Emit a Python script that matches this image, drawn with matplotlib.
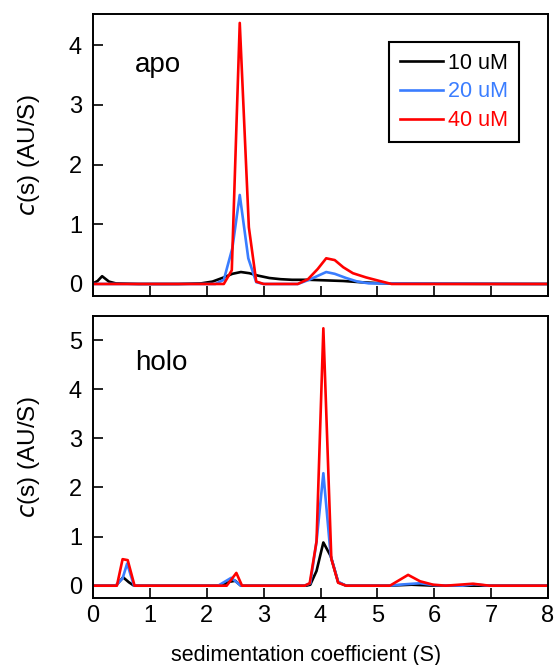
import matplotlib
matplotlib.use('Agg')
import matplotlib.pyplot as plt

plt.rcParams['font.family'] = ['Liberation Sans', 'DejaVu Sans']

labels = ['10 uM', '20 uM', '40 uM']
colors = ['black', '#3a7dff', '#ff0000']

# apo panel
apo_x_10 = [0, 0.08, 0.16, 0.28, 0.4, 0.8, 1.5, 1.9, 2.1, 2.3, 2.45, 2.6, 2.75, 2.9, 3.1, 3.3, 3.5, 3.8, 4.1, 4.4, 4.7, 5.0, 5.3, 8]
apo_y_10 = [0.01, 0.05, 0.13, 0.04, 0.01, 0, 0, 0.01, 0.04, 0.11, 0.17, 0.2, 0.18, 0.14, 0.1, 0.08, 0.07, 0.07, 0.06, 0.05, 0.03, 0.015, 0.005, 0]
apo_x_20 = [0, 2.15, 2.3, 2.45, 2.58, 2.73, 2.87, 3.0, 3.6, 3.8, 4.1, 4.25, 4.45, 4.65, 4.85, 8]
apo_y_20 = [0, 0, 0.07, 0.6, 1.49, 0.43, 0.03, 0, 0, 0.07, 0.2, 0.17, 0.1, 0.04, 0.01, 0]
apo_x_40 = [0, 2.3, 2.44, 2.58, 2.74, 2.87, 3.0, 3.6, 3.78, 3.95, 4.1, 4.25, 4.4, 4.57, 4.8, 5.04, 5.25, 8]
apo_y_40 = [0, 0, 0.23, 4.37, 0.95, 0.04, 0, 0, 0.08, 0.25, 0.43, 0.4, 0.28, 0.18, 0.11, 0.05, 0, 0]

# holo panel
holo_x_10 = [0, 0.4, 0.53, 0.63, 0.72, 2.25, 2.4, 2.5, 2.6, 3.75, 3.82, 3.93, 4.05, 4.18, 4.31, 4.45, 5.2, 5.6, 6.0, 8]
holo_y_10 = [0, 0, 0.17, 0.07, 0, 0, 0.08, 0.1, 0, 0, 0.02, 0.3, 0.88, 0.6, 0.07, 0, 0, 0.02, 0, 0]
holo_x_20 = [0, 0.4, 0.52, 0.6, 0.72, 2.2, 2.43, 2.6, 3.72, 3.82, 3.93, 4.05, 4.18, 4.31, 4.45, 5.2, 5.5, 5.75, 6.0, 6.5, 6.7, 6.95, 8]
holo_y_20 = [0, 0, 0.15, 0.45, 0, 0, 0.16, 0, 0, 0.05, 0.9, 2.29, 0.6, 0.08, 0, 0, 0.03, 0.05, 0.01, 0, 0.03, 0, 0]
holo_x_40 = [0, 0.42, 0.52, 0.61, 0.73, 2.35, 2.52, 2.62, 3.72, 3.81, 3.93, 4.05, 4.19, 4.31, 4.45, 5.22, 5.54, 5.75, 5.98, 6.2, 6.68, 6.97, 8]
holo_y_40 = [0, 0, 0.54, 0.52, 0, 0, 0.26, 0, 0, 0.05, 0.9, 5.24, 0.55, 0.06, 0, 0, 0.22, 0.09, 0.02, 0, 0.04, 0, 0]

fig = plt.figure(figsize=(5.55, 6.65), dpi=100)
ax1 = fig.add_axes([0.1676, 0.555, 0.8198, 0.424])
ax2 = fig.add_axes([0.1676, 0.1008, 0.8198, 0.424])

apo = [(apo_x_10, apo_y_10), (apo_x_20, apo_y_20), (apo_x_40, apo_y_40)]
holo = [(holo_x_10, holo_y_10), (holo_x_20, holo_y_20), (holo_x_40, holo_y_40)]

for (x, y), c, lab in zip(apo, colors, labels):
    ax1.plot(x, y, color=c, lw=1.9, label=lab)
for (x, y), c in zip(holo, colors):
    ax2.plot(x, y, color=c, lw=1.9)

for ax in (ax1, ax2):
    ax.set_xlim(0, 8)
    ax.set_xticks(range(9))
    ax.tick_params(direction='in', length=7, width=1.2, labelsize=17)
    ax.tick_params(axis='y', pad=8)
    ax.tick_params(axis='x', pad=5)
    for s in ax.spines.values():
        s.set_linewidth(1.4)
    ax.set_ylabel('$\\it{c}$(s) (AU/S)', fontsize=17.5)
    ax.yaxis.set_label_coords(-0.112, 0.5)

ax1.set_ylim(-0.2, 4.52)
ax1.set_yticks(range(5))
ax1.set_xticklabels([])
ax2.set_ylim(-0.25, 5.49)
ax2.set_yticks(range(6))
ax2.set_xlabel('sedimentation coefficient (S)', fontsize=15.5)
ax2.xaxis.set_label_coords(0.468, -0.168)

ax1.text(0.092, 0.794, 'apo', transform=ax1.transAxes, fontsize=20)
ax2.text(0.092, 0.809, 'holo', transform=ax2.transAxes, fontsize=20)

leg = ax1.legend(loc='upper right', bbox_to_anchor=(0.936, 0.901), fontsize=15.5,
                 fancybox=False, edgecolor='black', framealpha=1, borderaxespad=0,
                 handlelength=2.0, handletextpad=0.25, borderpad=0.5, labelspacing=0.36)
leg.get_frame().set_linewidth(1.5)
for t, c in zip(leg.get_texts(), colors):
    t.set_color(c)

fig.savefig('out.png', dpi=100)
